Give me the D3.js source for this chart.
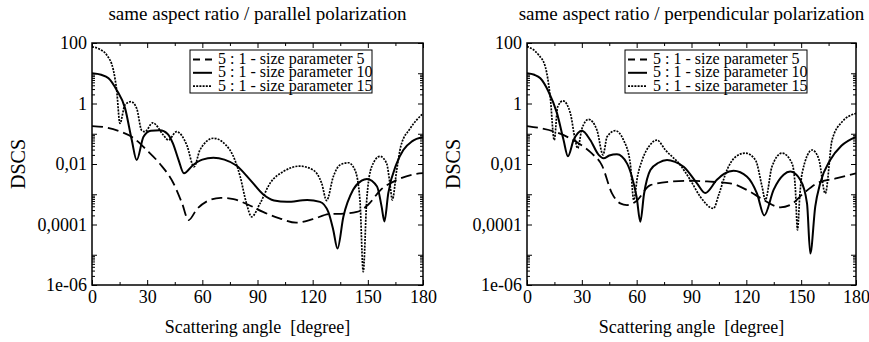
<!DOCTYPE html>
<html>
<head>
<meta charset="utf-8">
<script src="https://cdn.jsdelivr.net/npm/d3@7"></script>
<style>
  body { margin: 0; background: #fff; }
  text { font-family: "Liberation Serif", "Times New Roman", serif; fill: #000; }
</style>
</head>
<body>
<script>
// legend + tick labels
const legendLabels = ['5 : 1 - size parameter 5', '5 : 1 - size parameter 10', '5 : 1 - size parameter 15'];
const panelTitles = ['same aspect ratio / parallel polarization', 'same aspect ratio / perpendicular polarization'];
const xTicks = [0, 30, 60, 90, 120, 150, 180];
const xMinorTicks = [15, 45, 75, 105, 135, 165];
const yTicks = [1e-6, 1e-4, 1e-2, 1, 100];
const yTickLabels = ['1e-06', '0,0001', '0,01', '1', '100'];
const yMidTicks = [1e-5, 1e-3, 0.1, 10];

// parallel polarization
const parAngle5 = [0, 8, 15, 22, 30, 37, 44, 49, 52.5, 57, 62, 70, 77, 85, 93, 102, 111, 120, 129, 137, 144, 150, 157, 166, 176, 180];
const parDscs5 = [0.18, 0.16, 0.12, 0.076, 0.028, 0.01, 0.0025, 0.0005, 0.00014, 0.00032, 0.00056, 0.00076, 0.00069, 0.00045, 0.00026, 0.00016, 0.000115, 0.00015, 0.00022, 0.00023, 0.00026, 0.00044, 0.0014, 0.003, 0.0047, 0.005];

const parAngle10 = [0, 5, 9, 13.4, 18, 21.6, 24.3, 28, 32, 37, 41, 44, 47, 50, 55, 60, 66, 72, 78.5, 86, 93, 99, 106, 117, 124, 128.5, 131.2, 133.5, 136.7, 142, 146.6, 149.5, 155, 157.5, 159, 161.1, 165.7, 169.3, 174, 180];
const parDscs10 = [10, 8.9, 6.8, 2.8, 0.69, 0.063, 0.0135, 0.079, 0.126, 0.13, 0.1, 0.048, 0.014, 0.0049, 0.0093, 0.014, 0.016, 0.014, 0.0089, 0.003, 0.001, 0.00062, 0.00056, 0.00065, 0.00056, 0.00026, 0.000066, 0.000016, 0.00018, 0.0014, 0.0028, 0.0032, 0.0018, 0.00039, 0.000126, 0.00107, 0.0105, 0.029, 0.056, 0.076];

const parAngle15 = [0, 4, 8, 11.6, 13.4, 15.2, 17.9, 21.2, 24.3, 27, 28.8, 33, 38.8, 41.5, 46, 51.5, 55.5, 58.7, 66, 75, 80.5, 84, 86.8, 91.4, 96.8, 104, 113, 120.3, 124.9, 127.6, 131.2, 134.9, 139.4, 143, 145.7, 147.5, 149.4, 152.1, 156.6, 160.2, 162, 163.3, 165.7, 168, 173, 180];
const parDscs15 = [75, 63, 40, 12.9, 2.8, 0.22, 0.89, 1.15, 0.69, 0.13, 0.117, 0.23, 0.091, 0.062, 0.117, 0.043, 0.0081, 0.029, 0.071, 0.029, 0.004, 0.0005, 0.00018, 0.0005, 0.0023, 0.0056, 0.0085, 0.0063, 0.0023, 0.00062, 0.0038, 0.0093, 0.011, 0.0063, 0.00065, 0.00000275, 0.00065, 0.0081, 0.018, 0.0105, 0.0023, 0.00065, 0.0063, 0.04, 0.148, 0.47];

// perpendicular polarization
const perAngle5 = [0, 8, 15.5, 22, 28.3, 35.6, 41, 46.5, 51, 54.7, 59.3, 67.5, 78.4, 89.3, 100.3, 111.2, 122.2, 129.4, 138.6, 144, 151.3, 158.6, 169.6, 180];
const perDscs5 = [0.18, 0.15, 0.115, 0.079, 0.048, 0.022, 0.009, 0.00107, 0.0005, 0.00044, 0.00056, 0.002, 0.0026, 0.0028, 0.0026, 0.0023, 0.0012, 0.00065, 0.00037, 0.00044, 0.00107, 0.0023, 0.0034, 0.0049];

const perAngle10 = [0, 4, 7.3, 11.8, 16.4, 20, 22.4, 25.5, 30.1, 34.6, 39.2, 41.9, 45, 49.2, 54.7, 57.4, 60, 62, 64, 67.5, 72, 76.6, 81, 85.7, 93, 97.5, 103.9, 108, 113, 120.4, 125.8, 129.8, 134.9, 140.4, 144, 149.5, 153.2, 155, 157.7, 160.4, 165.9, 172, 180];
const perDscs10 = [10, 8.9, 6.8, 2.45, 0.48, 0.062, 0.018, 0.062, 0.126, 0.062, 0.02, 0.0155, 0.019, 0.021, 0.0105, 0.0038, 0.0008, 0.000123, 0.001, 0.0063, 0.011, 0.0135, 0.0117, 0.0081, 0.0023, 0.0011, 0.003, 0.0048, 0.006, 0.0038, 0.00107, 0.0002, 0.0014, 0.0044, 0.0056, 0.003, 0.0005, 0.000011, 0.00039, 0.0023, 0.0135, 0.04, 0.079];

const perAngle15 = [0, 3, 6.4, 10, 12.7, 14.9, 16.8, 19.7, 23.7, 26.4, 27.7, 30.1, 33.7, 38.3, 41.6, 43.8, 48.3, 52.8, 56.5, 58.4, 60.5, 63, 67, 71.1, 75.7, 83.8, 89.3, 94.8, 102, 105, 109.4, 114, 119.5, 125, 128.6, 130.4, 134, 139.5, 145, 146.8, 148, 149.3, 150.5, 156, 159.6, 163.2, 166.9, 172.3, 180];
const perDscs15 = [76, 63, 40, 16.6, 1.66, 0.062, 0.78, 1.23, 0.48, 0.062, 0.033, 0.15, 0.3, 0.13, 0.02, 0.079, 0.126, 0.062, 0.0105, 0.00065, 0.004, 0.0135, 0.04, 0.062, 0.029, 0.0093, 0.003, 0.00083, 0.00034, 0.001, 0.0063, 0.017, 0.023, 0.0135, 0.0018, 0.00065, 0.0081, 0.023, 0.0105, 0.0016, 0.000066, 0.001, 0.0049, 0.029, 0.015, 0.00107, 0.062, 0.245, 0.47];

const panels = [
    {
        title: panelTitles[0], left: 92, right: 423,
        series: [[parAngle5, parDscs5], [parAngle10, parDscs10], [parAngle15, parDscs15]],
    },
    {
        title: panelTitles[1], left: 527, right: 856,
        series: [[perAngle5, perDscs5], [perAngle10, perDscs10], [perAngle15, perDscs15]],
    },
];

const lineStyles = [
    { dash: '11,5', legendDash: '7,5', width: 1.8 },
    { dash: null, legendDash: null, width: 2 },
    { dash: '2,1.2', legendDash: '2,1.2', width: 1.7 },
];

const plotTop = 43;
const plotBottom = 285;

const svg = d3.select('body').append('svg').attr('width', 869).attr('height', 342);

// minor log ticks 2..9 under each labelled decade
const yMinorTicks = [];
yTicks.slice(0, -1).forEach((b) => {
    for (let k = 2; k <= 9; k++) yMinorTicks.push(b * k);
});

function styleAxis(g) {
    g.select('.domain').remove();
    g.selectAll('line').attr('stroke-width', 1);
    g.attr('font-family', null).attr('font-size', 18);
}

panels.forEach((p, i) => {
    const g = svg.append('g');
    const x = d3.scaleLinear().domain([0, 180]).range([p.left, p.right]);
    const y = d3.scaleLog().domain([1e-6, 100]).range([plotBottom, plotTop]);
    const cx = (p.left + p.right) / 2;

    g.append('text')
        .attr('x', cx)
        .attr('y', 20)
        .attr('text-anchor', 'middle')
        .style('font-size', '19px')
        .text(p.title);

    // axes, ticks inward on all four sides
    g.append('g')
        .attr('transform', `translate(0,${plotBottom})`)
        .call(d3.axisBottom(x).tickValues(xTicks).tickSize(-5).tickPadding(5))
        .call(styleAxis);
    g.append('g')
        .attr('transform', `translate(0,${plotBottom})`)
        .call(d3.axisBottom(x).tickValues(xMinorTicks).tickSize(-3).tickFormat(''))
        .call(styleAxis);
    g.append('g')
        .attr('transform', `translate(0,${plotTop})`)
        .call(d3.axisTop(x).tickValues(xTicks).tickSize(-5).tickFormat(''))
        .call(styleAxis);
    g.append('g')
        .attr('transform', `translate(0,${plotTop})`)
        .call(d3.axisTop(x).tickValues(xMinorTicks).tickSize(-3).tickFormat(''))
        .call(styleAxis);

    g.append('g')
        .attr('transform', `translate(${p.left},0)`)
        .call(d3.axisLeft(y).tickValues(yTicks).tickSize(-5).tickPadding(5)
            .tickFormat((d, j) => yTickLabels[j]))
        .call(styleAxis);
    [[yMidTicks, -5], [yMinorTicks, -3]].forEach(([vals, size]) => {
        g.append('g')
            .attr('transform', `translate(${p.left},0)`)
            .call(d3.axisLeft(y).tickValues(vals).tickSize(size).tickFormat(''))
            .call(styleAxis);
    });
    [[yTicks, -5], [yMidTicks, -5], [yMinorTicks, -3]].forEach(([vals, size]) => {
        g.append('g')
            .attr('transform', `translate(${p.right},0)`)
            .call(d3.axisRight(y).tickValues(vals).tickSize(size).tickFormat(''))
            .call(styleAxis);
    });

    g.append('rect')
        .attr('x', p.left)
        .attr('y', plotTop)
        .attr('width', p.right - p.left)
        .attr('height', plotBottom - plotTop)
        .attr('fill', 'none')
        .attr('stroke', '#000')
        .attr('stroke-width', 1.5);

    g.append('text')
        .attr('x', cx)
        .attr('y', 333)
        .attr('text-anchor', 'middle')
        .style('font-size', '18px')
        .style('white-space', 'pre')
        .text('Scattering angle  [degree]');

    g.append('text')
        .attr('transform', `translate(${p.left - 67},${(plotTop + plotBottom) / 2}) rotate(-90)`)
        .attr('text-anchor', 'middle')
        .style('font-size', '20px')
        .text('DSCS');

    // curves
    const clipId = `clip-${i}`;
    g.append('clipPath')
        .attr('id', clipId)
        .append('rect')
        .attr('x', p.left)
        .attr('y', plotTop)
        .attr('width', p.right - p.left)
        .attr('height', plotBottom - plotTop);

    const line = d3.line()
        .x((d) => x(d[0]))
        .y((d) => y(d[1]))
        .curve(d3.curveMonotoneX);

    p.series.forEach(([ang, val], s) => {
        g.append('path')
            .datum(d3.zip(ang, val))
            .attr('clip-path', `url(#${clipId})`)
            .attr('fill', 'none')
            .attr('stroke', '#000')
            .attr('stroke-width', lineStyles[s].width)
            .attr('stroke-dasharray', lineStyles[s].dash)
            .attr('d', line);
    });

    // legend
    const lx = p.left + 98;
    const legend = g.append('g');
    legend.append('rect')
        .attr('x', lx)
        .attr('y', 50)
        .attr('width', 182)
        .attr('height', 43)
        .attr('fill', '#fff')
        .attr('stroke', '#000')
        .attr('stroke-width', 1);
    legendLabels.forEach((lab, s) => {
        const by = 64 + s * 13.3;
        legend.append('line')
            .attr('x1', lx + 3)
            .attr('x2', lx + 22)
            .attr('y1', by - 4.5)
            .attr('y2', by - 4.5)
            .attr('stroke', '#000')
            .attr('stroke-width', lineStyles[s].width)
            .attr('stroke-dasharray', lineStyles[s].legendDash);
        legend.append('text')
            .attr('x', lx + 28)
            .attr('y', by)
            .style('font-size', '16px')
            .text(lab);
    });
});
</script>
</body>
</html>
